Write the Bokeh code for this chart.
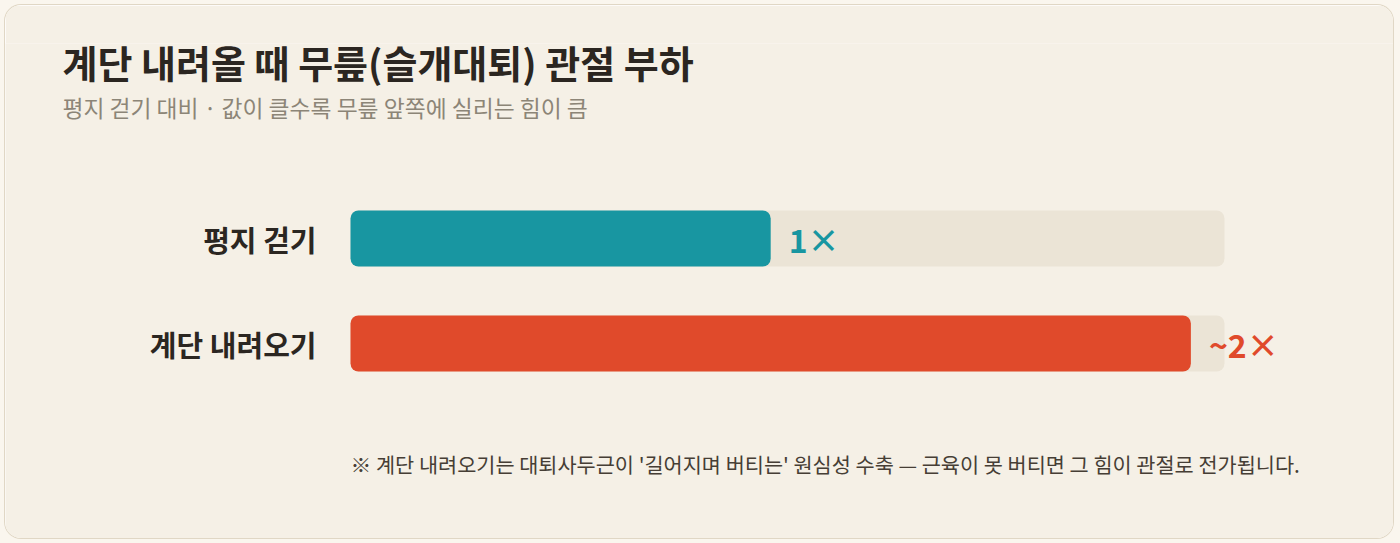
from bokeh.plotting import figure
from bokeh.models import ColumnDataSource, FactorRange, Range1d, LabelSet, Label
from bokeh.embed import file_html
from bokeh.resources import INLINE
from bokeh.core.properties import value

# ---- data ----
categories = ["평지 걷기", "계단 내려오기"]
load_ratio = [1.0, 2.0]
value_labels = ["1×", "~2×"]
bar_colors = ["#1896a1", "#e04a2b"]
track_max = 2.08

title_text = "계단 내려올 때 무릎(슬개대퇴) 관절 부하"
subtitle_text = "평지 걷기 대비 · 값이 클수록 무릎 앞쪽에 실리는 힘이 큼"
note_text = "※ 계단 내려오기는 대퇴사두근이 '길어지며 버티는' 원심성 수축 — 근육이 못 버티면 그 힘이 관절로 전가됩니다."

# ---- layout constants (pixels) ----
FONT = "Noto Sans CJK KR"
BG = "#f5f0e6"
W, H = 1388, 533
TOP = 38                 # frame top inside canvas
BAR_LEFT = 345           # x pixel where bars start
TRACK_PX = 874           # pixel width of the full track
ROW_PX = 105             # pixel distance between rows
BAR_PX = 56              # bar thickness

frame_h = H - TOP
pad = (frame_h / ROW_PX - len(categories)) / 2
unit = TRACK_PX / track_max

src = ColumnDataSource(dict(
    cat=categories,
    val=load_ratio,
    zero=[0] * len(categories),
    track=[track_max] * len(categories),
    lbl=value_labels,
    color=bar_colors,
))

p = figure(
    width=W, height=H,
    y_range=FactorRange(factors=list(reversed(categories)),
                        range_padding=pad, range_padding_units="absolute"),
    x_range=Range1d(-BAR_LEFT / unit, (W - BAR_LEFT) / unit),
    x_axis_location=None, y_axis_location=None,
    toolbar_location=None,
    output_backend="svg",
    min_border_left=0, min_border_right=0,
    min_border_top=TOP, min_border_bottom=0,
)
p.border_fill_color = BG
p.background_fill_color = BG
p.outline_line_color = None
p.grid.visible = False
p.styles = {
    "margin": "5px",
    "border-radius": "16px",
    "box-shadow": "0 0 0 1px #e0d7c5, 0 0 0 24px #faf6ee",
    "overflow": "hidden",
}

bar_h = BAR_PX / ROW_PX
p.hbar(y="cat", left=0, right="track", height=bar_h, source=src,
       fill_color="#ebe4d6", line_color=None, border_radius=8)
p.hbar(y="cat", left=0, right="val", height=bar_h, source=src,
       fill_color="color", line_color=None, border_radius=8)

# category labels
p.add_layout(LabelSet(
    x="zero", y="cat", text="cat", source=src, x_offset=-34,
    text_baseline="middle", text_align="right",
    text_font=value(FONT), text_font_size="29px", text_font_style="bold",
    text_color="#2b2621",
))

# value labels
p.add_layout(LabelSet(
    x="val", y="cat", text="lbl", source=src, x_offset=18,
    text_baseline="middle", text_align="left",
    text_font=value(FONT), text_font_size="32px", text_font_style="bold",
    text_color="color",
))

p.add_layout(Label(x=57, y=H - 56, x_units="screen", y_units="screen",
                   text=title_text, text_font=FONT, text_font_size="38px",
                   text_font_style="bold", text_color="#2b2621",
                   text_baseline="middle", text_align="left"))
p.add_layout(Label(x=57, y=H - 102, x_units="screen", y_units="screen",
                   text=subtitle_text, text_font=FONT, text_font_size="22.8px",
                   text_color="#8c8577",
                   text_baseline="middle", text_align="left"))
p.add_layout(Label(x=345, y=H - 458, x_units="screen", y_units="screen",
                   text=note_text, text_font=FONT, text_font_size="20.8px",
                   text_color="#463e35",
                   text_baseline="middle", text_align="left"))

open("out.html", "w").write(file_html(p, INLINE))
